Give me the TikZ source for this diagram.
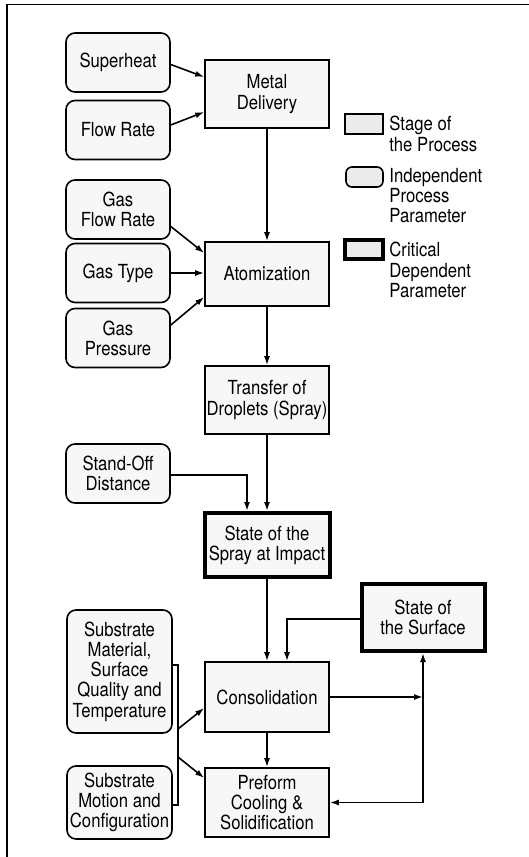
\documentclass[tikz,border=0pt]{standalone}
\usepackage{fontspec}
\newfontfamily\heros[FakeStretch=0.86]{TeX Gyre Heros}
\usetikzlibrary{calc,positioning,arrows.meta}

\begin{document}
\begin{tikzpicture}[x=0.5pt, y=-0.5pt,
  every node/.style={font=\heros\fontsize{9.7}{10.1}\selectfont, align=center, inner sep=0pt},
  stagebox/.style={draw, line width=0.8pt, fill=black!3, minimum width=62pt, minimum height=34pt},
  parambox/.style={draw, line width=0.8pt, rounded corners=4.5pt, fill=black!3, minimum width=52pt, minimum height=29.5pt},
  critbox/.style={draw, line width=2pt, fill=black!3},
  legtext/.style={anchor=north west, align=left},
  arr/.style={-{Latex[length=4.5pt,width=3pt]}, line width=0.8pt}]
\useasboundingbox (0,0) rectangle (529,857);
\draw[line width=0.8pt] (529,4.5) -- (6.7,4.5) -- (6.7,857);

% process parameters
\node[parambox] (sup) at (118,62.5) {Superheat};
\node[parambox] (flow) at (118,130) {Flow Rate};
\node[parambox] (gasflow) at (118,209.5) {Gas\\Flow Rate};
\node[parambox] (gastype) at (118,273) {Gas Type};
\node[parambox] (gaspres) at (118,338) {Gas\\Pressure};
\node[parambox] (standoff) at (118,473.5) {Stand-Off\\Distance};
\node[parambox, minimum width=52.5pt, minimum height=61.5pt] (submat) at (119.5,671.5) {Substrate\\Material,\\Surface\\Quality and\\Temperature};
\node[parambox, minimum width=52.5pt, minimum height=36.5pt] (submot) at (119.5,802.5) {Substrate\\Motion and\\Configuration};

% stages
\node[stagebox] (metal) at (267,94) {Metal\\Delivery};
\node[stagebox, minimum height=32pt] (atom) at (267,274) {Atomization};
\node[stagebox] (transfer) at (267,400) {Transfer of\\Droplets (Spray)};
\node[critbox, minimum width=62.5pt, minimum height=32pt] (spray) at (267,545) {State of the\\Spray at Impact};
\node[critbox, minimum width=61.5pt, minimum height=33.5pt] (surface) at (423,617.5) {State of\\the Surface};
\node[stagebox, minimum height=35pt] (consol) at (267,697) {Consolidation};
\node[stagebox, minimum height=34.5pt] (preform) at (267,802.5) {Preform\\Cooling \&\\Solidification};

% legend
\node[stagebox, minimum width=19pt, minimum height=10pt, fill=black!8] (lgstage) at (364,124) {};
\node[parambox, rounded corners=3pt, minimum width=18.5pt, minimum height=10pt, fill=black!8] (lgparam) at (364.5,177) {};
\node[critbox, minimum width=19pt, minimum height=9.5pt, fill=black!8] (lgcrit) at (364,249.5) {};
\node[legtext] (lgstagetxt) at (389,116) {Stage of\\the Process};
\node[legtext] (lgparamtxt) at (389,168) {Independent\\Process\\Parameter};
\node[legtext] (lgcrittxt) at (389,242) {Critical\\Dependent\\Parameter};

% connections
\draw[arr] ($(sup.east)+(0,2)$) -- ($(metal.west)+(0,-17)$);
\draw[arr] ($(flow.east)+(0,-5)$) -- ($(metal.west)+(0,18)$);
\draw[arr] (metal) -- (atom);
\draw[arr] ($(gasflow.east)+(0,17)$) -- ($(atom.west)+(0,-21)$);
\draw[arr] (gastype.east) -- (gastype.east -| atom.west);
\draw[arr] ($(gaspres.east)+(0,-13)$) -- ($(atom.west)+(0,23)$);
\draw[arr] (atom) -- (transfer);
\draw[arr] (transfer) -- (spray);
\draw[arr] ($(standoff.east)+(0,1.5)$) -| ($(spray.north)+(-20,0)$);
\draw[arr] (spray) -- (consol);
\draw[arr] ($(surface.west)+(0,1.5)$) -| ($(consol.north)+(20,0)$);
\draw[arr] (consol) -- (preform);

\coordinate (junc) at (surface.south |- preform.east);
\draw[arr] (consol.east) -- (consol.east -| junc);
\draw[arr] (junc) -- (surface.south);
\draw[arr] (junc) -- (preform.east);

\coordinate (brt) at (178,665);
\coordinate (brb) at (178,805);
\draw[line width=0.8pt] (submat.east |- brt) -- (brt) -- (brb) -- (submot.east |- brb);
\coordinate (br1) at (178,729);
\coordinate (br2) at (178,757);
\draw[arr] (br1) -- ($(consol.west)+(0,11)$);
\draw[arr] (br2) -- ($(preform.west)+(0,-24.5)$);
\end{tikzpicture}
\end{document}
